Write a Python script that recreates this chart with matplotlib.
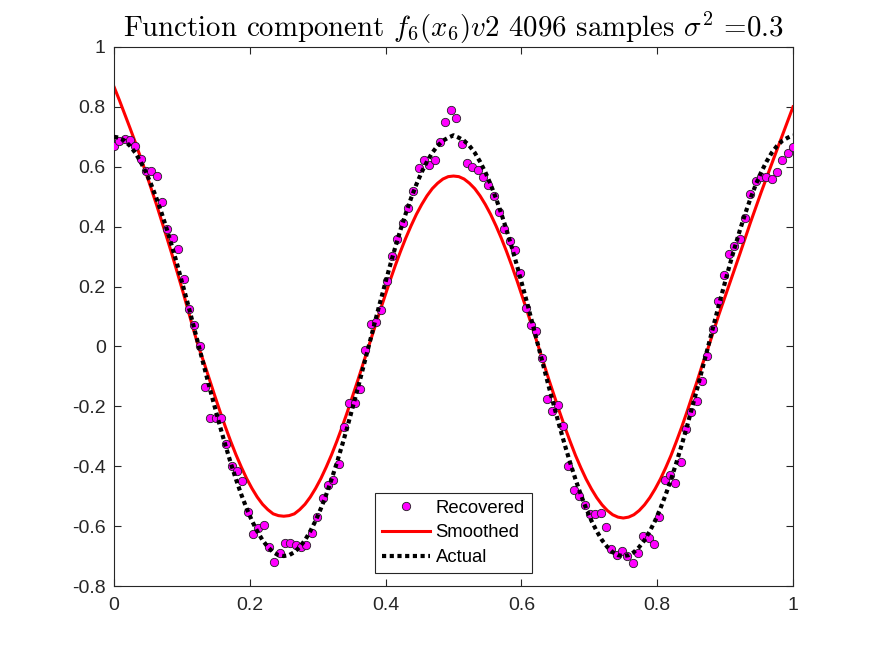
import numpy as np
import matplotlib
matplotlib.use("Agg")
import matplotlib.pyplot as plt

# ---------------- data ----------------
recovered = [
    0.669, 0.686, 0.693, 0.689, 0.668, 0.627, 0.587, 0.585, 0.568, 0.482,
    0.393, 0.362, 0.325, 0.225, 0.124, 0.071, 0.000, -0.137, -0.239, -0.239,
    -0.239, -0.326, -0.400, -0.415, -0.450, -0.553, -0.628, -0.605, -0.597, -0.670,
    -0.719, -0.690, -0.657, -0.657, -0.664, -0.671, -0.664, -0.623, -0.568, -0.506,
    -0.463, -0.446, -0.391, -0.270, -0.190, -0.190, -0.143, -0.011, 0.076, 0.081,
    0.120, 0.217, 0.303, 0.360, 0.412, 0.461, 0.520, 0.595, 0.623, 0.606,
    0.623, 0.684, 0.750, 0.791, 0.763, 0.676, 0.614, 0.600, 0.589, 0.567,
    0.538, 0.501, 0.450, 0.392, 0.353, 0.322, 0.244, 0.128, 0.070, 0.051,
    -0.040, -0.176, -0.215, -0.195, -0.266, -0.400, -0.479, -0.500, -0.530, -0.560,
    -0.560, -0.555, -0.604, -0.676, -0.698, -0.682, -0.699, -0.722, -0.689, -0.633,
    -0.641, -0.660, -0.571, -0.446, -0.430, -0.455, -0.385, -0.277, -0.218, -0.181,
    -0.117, -0.032, 0.058, 0.151, 0.240, 0.309, 0.336, 0.359, 0.430, 0.510,
    0.553, 0.567, 0.565, 0.558, 0.584, 0.622, 0.647, 0.667,
]
x_recovered = np.linspace(0, 1, len(recovered))

smoothed = [
    0.867, 0.823, 0.777, 0.730, 0.682, 0.632, 0.581, 0.528, 0.474, 0.418,
    0.361, 0.303, 0.243, 0.182, 0.119, 0.055, -0.005,
    -0.056, -0.111, -0.165, -0.218, -0.269, -0.317, -0.362, -0.403, -0.441,
    -0.474, -0.503, -0.527, -0.545, -0.559, -0.565, -0.567,
    -0.565, -0.559, -0.545, -0.527, -0.503, -0.474, -0.441, -0.403, -0.362,
    -0.317, -0.269, -0.218, -0.165, -0.111, -0.056, 0.000,
    0.056, 0.111, 0.165, 0.218, 0.269, 0.317, 0.362, 0.403, 0.441,
    0.474, 0.503, 0.527, 0.545, 0.559, 0.567, 0.569,
    0.567, 0.559, 0.545, 0.527, 0.503, 0.474, 0.441, 0.403, 0.362,
    0.317, 0.269, 0.218, 0.165, 0.111, 0.056, 0.000,
    -0.056, -0.112, -0.166, -0.219, -0.270, -0.318, -0.364, -0.405, -0.443,
    -0.476, -0.505, -0.529, -0.548, -0.562, -0.570, -0.573,
    -0.570, -0.562, -0.548, -0.529, -0.505, -0.476, -0.443, -0.405, -0.364,
    -0.318, -0.270, -0.219, -0.166, -0.112, -0.056, -0.005,
    0.050, 0.105, 0.156, 0.206, 0.258, 0.310, 0.363, 0.415, 0.465,
    0.515, 0.563, 0.610, 0.658, 0.705, 0.753, 0.800,
]
x_smoothed = np.linspace(0, 1, len(smoothed))

actual = [
    0.700, 0.697, 0.687, 0.670, 0.647, 0.617, 0.582, 0.541, 0.495, 0.444,
    0.389, 0.330, 0.268, 0.203, 0.137, 0.069, 0.000,
    -0.069, -0.137, -0.203, -0.268, -0.330, -0.389, -0.444, -0.495, -0.541,
    -0.582, -0.617, -0.647, -0.670, -0.687, -0.697, -0.700,
    -0.697, -0.687, -0.670, -0.647, -0.617, -0.582, -0.541, -0.495, -0.444,
    -0.389, -0.330, -0.268, -0.203, -0.137, -0.069, 0.000,
    0.069, 0.137, 0.203, 0.268, 0.330, 0.389, 0.444, 0.495, 0.541,
    0.582, 0.617, 0.647, 0.670, 0.687, 0.697, 0.705,
    0.697, 0.687, 0.670, 0.647, 0.617, 0.582, 0.541, 0.495, 0.444,
    0.389, 0.330, 0.268, 0.203, 0.137, 0.069, 0.000,
    -0.069, -0.137, -0.203, -0.268, -0.330, -0.389, -0.444, -0.495, -0.541,
    -0.582, -0.617, -0.647, -0.670, -0.687, -0.697, -0.700,
    -0.697, -0.687, -0.670, -0.647, -0.617, -0.582, -0.541, -0.495, -0.444,
    -0.389, -0.330, -0.268, -0.203, -0.137, -0.069, 0.000,
    0.069, 0.137, 0.203, 0.268, 0.330, 0.389, 0.444, 0.495, 0.541,
    0.582, 0.617, 0.647, 0.670, 0.687, 0.697, 0.705,
]
x_actual = np.linspace(0, 1, len(actual))

x_ticks = [0, 0.2, 0.4, 0.6, 0.8, 1]
x_tick_labels = ["0", "0.2", "0.4", "0.6", "0.8", "1"]
y_ticks = [-0.8, -0.6, -0.4, -0.2, 0, 0.2, 0.4, 0.6, 0.8, 1]
y_tick_labels = ["-0.8", "-0.6", "-0.4", "-0.2", "0", "0.2", "0.4", "0.6", "0.8", "1"]

title_text = r"Function component $f_6(x_6)v2$ 4096 samples $\sigma^2$ =0.3"

# ---------------- style ----------------
plt.rcParams["font.family"] = ["Liberation Sans", "DejaVu Sans"]
plt.rcParams["mathtext.fontset"] = "cm"
axis_color = "#262626"

fig = plt.figure(figsize=(8.75, 6.56), dpi=100)
ax = fig.add_axes([0.1303, 0.1067, 0.7760, 0.8217])

ax.plot(x_recovered, recovered, linestyle="none", marker="o", markersize=6.0,
        markerfacecolor="#ff00ff", markeredgecolor="#202020", markeredgewidth=0.6,
        label="Recovered", zorder=3)
ax.plot(x_smoothed, smoothed, color="#ff0000", linewidth=2.2, label="Smoothed", zorder=2)
ax.plot(x_actual, actual, color="black", linewidth=3.0, linestyle=(0, (1.0, 0.85)),
        dash_capstyle="butt", label="Actual", zorder=4)

ax.set_xlim(0, 1)
ax.set_ylim(-0.8, 1)
ax.set_xticks(x_ticks)
ax.set_xticklabels(x_tick_labels)
ax.set_yticks(y_ticks)
ax.set_yticklabels(y_tick_labels)
ax.tick_params(direction="in", length=5, width=0.8, colors=axis_color,
               labelsize=14, top=True, right=True, labelcolor=axis_color)
ax.tick_params(axis="x", pad=8)
ax.tick_params(axis="y", pad=6)
for s in ax.spines.values():
    s.set_color(axis_color)
    s.set_linewidth(0.8)

ax.set_title(title_text, fontfamily="cmr10", fontsize=20.8, color="black", pad=7)

leg = ax.legend(loc="lower center", bbox_to_anchor=(0.5, 0.024), fontsize=13.3,
                fancybox=False, framealpha=1, edgecolor="#262626",
                borderaxespad=0, handlelength=2.6, handletextpad=0.3,
                labelspacing=0.42, borderpad=0.38)
leg.get_frame().set_linewidth(0.8)

fig.savefig("out.png", dpi=100, facecolor="white")
